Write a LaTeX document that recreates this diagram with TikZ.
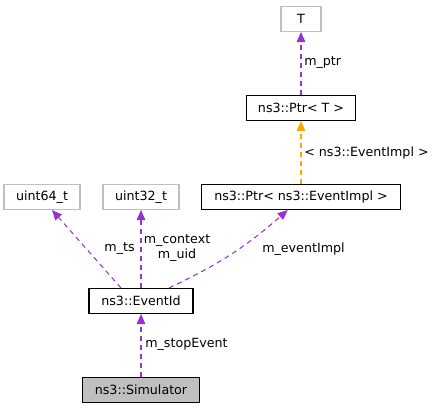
\documentclass[tikz,border=0pt]{standalone}
\usepackage{fontspec}
\setmainfont{DejaVu Sans}
\usepackage{tikz}
\usetikzlibrary{arrows.meta}
\definecolor{member}{HTML}{9A32CD}
\definecolor{tmpl}{HTML}{FFA500}
\definecolor{ghost}{HTML}{BFBFBF}

\begin{document}
\begin{tikzpicture}[x=0.75pt,y=-0.75pt,font=\fontsize{9.5}{11}\selectfont]
\tikzstyle{every node}+=[inner sep=0pt]
\tikzstyle{cls}=[draw=black,line width=0.8pt,minimum height=18.75pt]
\tikzstyle{ext}=[draw=ghost,line width=0.8pt,minimum height=18.75pt]
\tikzstyle{use}=[draw=member,line width=0.8pt,dash pattern=on 3.75pt off 3pt,-{Triangle[length=7.5pt,width=6.5pt,fill=member]}]
\tikzstyle{inst}=[draw=tmpl,line width=0.8pt,dash pattern=on 3.75pt off 3pt,-{Triangle[length=7.5pt,width=6.5pt,fill=tmpl]}]
\useasboundingbox (0,0) rectangle (439,409);
\node [ext,minimum width=30pt] (T) at (301,19) {T};
\node [cls,minimum width=81.75pt] (PtrT) at (301,108) {ns3::Ptr< T >};
\node [cls,minimum width=149.25pt] (PtrEv) at (301,197) {ns3::Ptr< ns3::EventImpl >};
\node [ext,minimum width=57pt] (U64) at (42,197) {uint64\_t};
\node [ext,minimum width=57pt] (U32) at (141,197) {uint32\_t};
\node [cls,minimum width=78pt] (EvId) at (141,301) {ns3::EventId};
\node [cls,minimum width=87.75pt,fill=ghost] (Sim) at (141,390) {ns3::Simulator};
\draw [use] (PtrT.north) -- (T.south);
\draw (304,63) node [right] {m\_ptr};
\draw [inst] (PtrEv.north) -- (PtrT.south);
\draw (304,153) node [right] {< ns3::EventImpl >};
\draw [use] ([xshift=-15pt]EvId.north) -- ([xshift=7.5pt]U64.south);
\draw (135,249) node [left] {m\_ts};
\draw [use] (EvId.north) -- (U32.south);
\draw (177,248) node [align=center] {m\_context\\m\_uid};
\draw [use] ([xshift=21pt]EvId.north) to [bend right=8] ([xshift=-10pt]PtrEv.south);
\draw (262,249) node [right] {m\_eventImpl};
\draw [use] (Sim.north) -- (EvId.south);
\draw (145,344) node [right] {m\_stopEvent};
\end{tikzpicture}
\end{document}
